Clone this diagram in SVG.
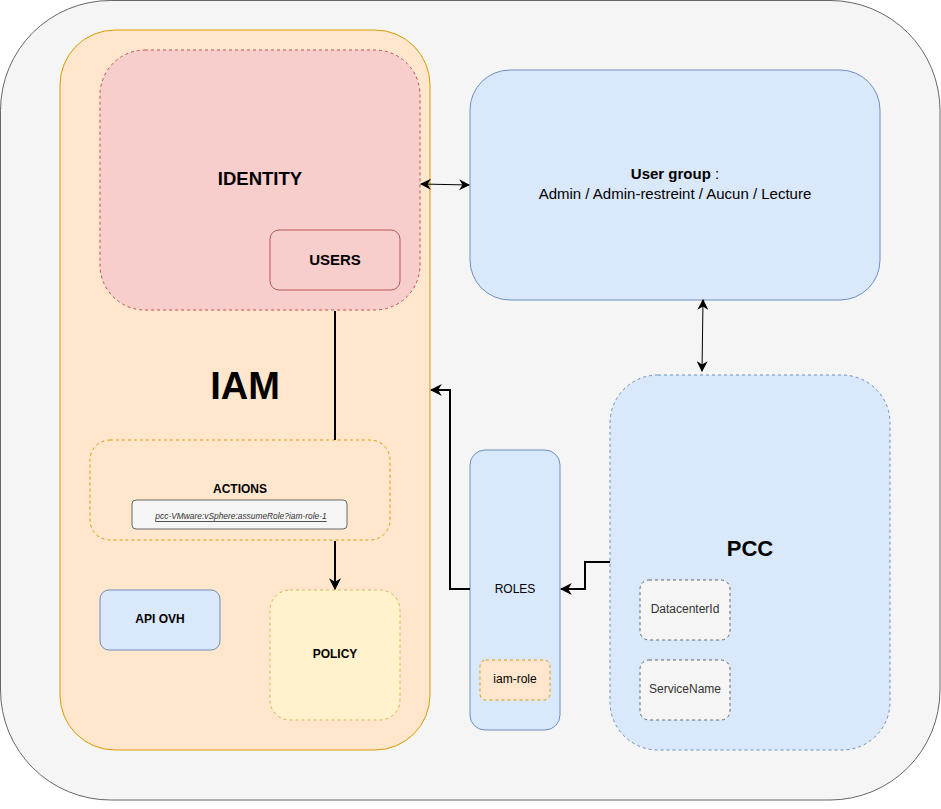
<svg xmlns="http://www.w3.org/2000/svg" width="941" height="809" viewBox="0 0 941 809">
<style>
text{font-family:"Liberation Sans",Arial,sans-serif;fill:#000;text-anchor:middle;dominant-baseline:central}
.b{font-weight:bold}
.blue{fill:#dae8fc;stroke:#6c8ebf}
.org{fill:#ffe6cc;stroke:#d79b00}
.dash{stroke-dasharray:3 3}
.gray{fill:#f5f5f5;stroke:#666}
.c{fill:none;stroke:#000}
</style>
<defs>
<marker id="a2" viewBox="0 0 10 10" refX="9" refY="5" markerWidth="12" markerHeight="12" orient="auto" markerUnits="userSpaceOnUse"><path d="M0,0 L10,5 L0,10 L3,5 Z" fill="#000"/></marker>
<marker id="as" viewBox="0 0 10 10" refX="9" refY="5" markerWidth="11" markerHeight="11" orient="auto-start-reverse" markerUnits="userSpaceOnUse"><path d="M0,0 L10,5 L0,10 L3,5 Z" fill="#000"/></marker>
</defs>
<g id="background"><rect x="0.5" y="0.5" width="939.5" height="799.5" rx="110" fill="#f5f5f5" stroke="#666"/></g>
<g id="iam"><rect x="60" y="30" width="370" height="720" rx="55" class="org"/><text x="245" y="386" class="b" font-size="38">IAM</text></g>
<g id="identity"><rect x="100" y="50" width="320" height="260" rx="45" fill="#f8cecc" stroke="#b85450" class="dash"/><text x="260" y="178" class="b" font-size="18.5">IDENTITY</text></g>
<g id="users"><rect x="270" y="230" width="130" height="60" rx="9" fill="#f8cecc" stroke="#b85450"/><text x="335" y="259" class="b" font-size="15">USERS</text></g>
<g id="actions"><rect x="90" y="440" width="300" height="100" rx="20" class="org dash"/><text x="240" y="489" class="b" font-size="12">ACTIONS</text></g>
<g id="action-item"><rect x="132" y="500" width="215" height="29" rx="4" class="gray"/><text x="241" y="516" font-size="8.4" font-style="italic" text-decoration="underline" style="fill:#333">pcc-VMware:vSphere:assumeRole?iam-role-1</text></g>
<g id="api-ovh"><rect x="100" y="590" width="120" height="60" rx="9" class="blue"/><text x="160" y="619" class="b" font-size="12">API OVH</text></g>
<g id="policy"><rect x="270" y="590" width="130" height="130" rx="20" fill="#fff2cc" stroke="#d6b656" class="dash"/><text x="335" y="654" class="b" font-size="12">POLICY</text></g>
<g id="user-group"><rect x="470" y="70" width="410" height="230" rx="40" class="blue"/><text x="675" y="173" font-size="15"><tspan class="b">User group</tspan> :</text><text x="675" y="193" font-size="15">Admin / Admin-restreint / Aucun / Lecture</text></g>
<g id="pcc"><rect x="610" y="375" width="280" height="375" rx="48" class="blue dash"/><text x="750" y="548" class="b" font-size="22">PCC</text></g>
<g id="datacenterid"><rect x="640" y="580" width="90" height="60" rx="9" class="gray dash"/><text x="685" y="609" font-size="12" style="fill:#333">DatacenterId</text></g>
<g id="servicename"><rect x="640" y="660" width="90" height="60" rx="9" class="gray dash"/><text x="685" y="689" font-size="12" style="fill:#333">ServiceName</text></g>
<g id="roles"><rect x="470" y="450" width="90" height="280" rx="15" class="blue"/><text x="515" y="589" font-size="12">ROLES</text></g>
<g id="iam-role"><rect x="480" y="660" width="70" height="40" rx="6" class="org dash"/><text x="515" y="679" font-size="12">iam-role</text></g>
<g id="connectors">
<path d="M421,184 L469,185" class="c" marker-start="url(#as)" marker-end="url(#as)"/>
<path d="M703,300 L702,371" class="c" marker-start="url(#as)" marker-end="url(#as)"/>
<path d="M335,311 L335,440" class="c" stroke-width="2"/>
<path d="M335,541 L335,589" class="c" stroke-width="2" marker-end="url(#a2)"/>
<path d="M470,589 L450,589 L450,390 L431,390" class="c" stroke-width="2" marker-end="url(#a2)"/>
<path d="M610,562 L585,562 L585,589 L561,589" class="c" stroke-width="2" marker-end="url(#a2)"/>
</g>
</svg>
